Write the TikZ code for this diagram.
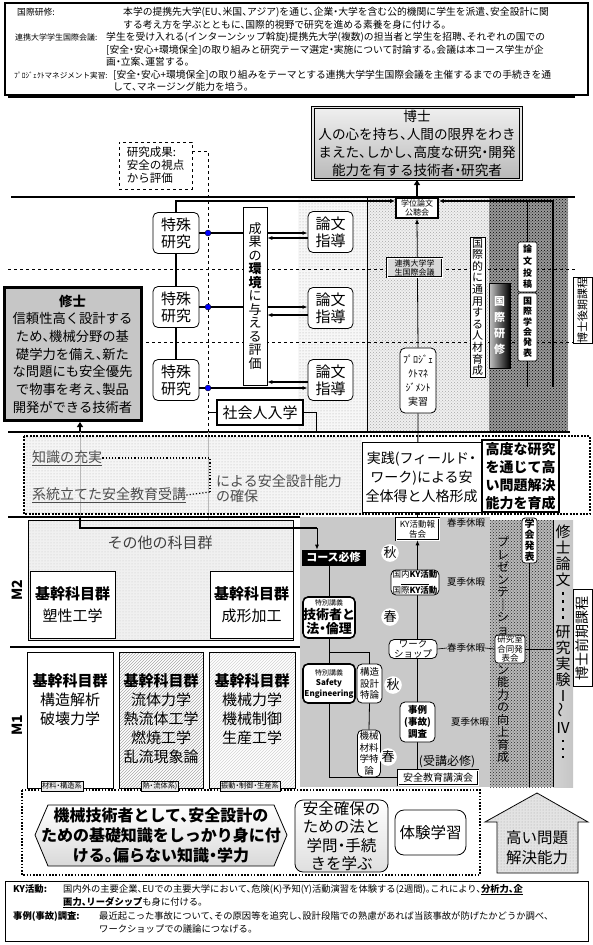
\documentclass[tikz,border=0pt]{standalone}
\usepackage{fontspec}
\usepackage{graphicx}
\setmainfont{Noto Sans CJK JP}[RawFeature=+halt]
\usetikzlibrary{arrows.meta,positioning,patterns}
\newcommand{\jfs}[2]{\fontsize{#1}{#2}\selectfont}

\begin{document}
\begin{tikzpicture}[x=1pt, y=-1pt, >={Latex[length=5pt,width=4pt]},
  note/.style={inner sep=0pt, font=\jfs{9.3}{12}},
  topnote/.style={inner sep=0pt, font=\jfs{9.8}{12}},
  notelbl/.style={inner sep=0pt, font=\jfs{8.8}{12}},
  box/.style={draw, fill=white, align=center, inner sep=0pt, line width=0.6pt},
  rbox/.style={box, rounded corners=5pt, line width=0.8pt},
  tkbox/.style={rbox, minimum width=46, minimum height=41, font=\jfs{15}{17}},
  season/.style={circle, fill=white, inner sep=0pt, minimum size=17, font=\jfs{13}{13}},
  rest/.style={inner sep=0pt, font=\jfs{9.5}{10}},
  tag/.style={draw, fill=gray!15, inner sep=1pt, minimum height=10, font=\jfs{7.2}{8}},
  bdot/.style={circle, draw=black, fill=blue, line width=0.3pt, inner sep=0pt, minimum size=6},
  rowdot/.style={line width=2.4pt, dash pattern=on 2pt off 1.3pt},
  sqdots/.style={line width=2.4pt, dash pattern=on 2.4pt off 5.6pt},
  kbox/.style={draw, line width=0.7pt, inner sep=0pt},
  ktext/.style={align=center, inner sep=0pt, font=\jfs{15}{19}},
  vtext/.style={inner sep=0pt, align=center},
  row2/.style={inner sep=0pt, text=black!70, font=\jfs{14}{15}}]
\useasboundingbox (0,0) rectangle (592,945);

% notes on top
\node[draw, line width=1.8pt, minimum width=583, minimum height=92, inner sep=0pt] (top) at (296.5,49) {};
\node[notelbl, anchor=base west] (ta) at (17,15.5) {国際研修:};
\node[topnote, anchor=base west] (ta1) at (123,15.5) {本学の提携先大学(EU、米国、アジア)を通じ、企業・大学を含む公的機関に学生を派遣、安全設計に関};
\node[topnote, anchor=base west] (ta2) at (123,28) {する考え方を学ぶとともに、国際的視野で研究を進める素養を身に付ける。};
\node[notelbl, font=\jfs{8}{12}, anchor=base west] (tb) at (15,40.5) {連携大学学生国際会議:};
\node[topnote, anchor=base west] (tb1) at (106,40.5) {学生を受け入れる(インターンシップ斡旋)提携先大学(複数)の担当者と学生を招聘、それぞれの国での};
\node[topnote, anchor=base west] (tb2) at (106,53) {[安全・安心+環境保全]の取り組みと研究テーマ選定・実施について討論する。会議は本コース学生が企};
\node[topnote, anchor=base west] (tb3) at (106,65.5) {画・立案、運営する。};
\node[notelbl, font=\jfs{7.6}{12}, anchor=base west] (tc) at (14,78) {ﾌﾟﾛｼﾞｪｸﾄマネジメント実習:};
\node[topnote, anchor=base west] (tc1) at (113,78) {[安全・安心+環境保全]の取り組みをテーマとする連携大学学生国際会議を主催するまでの手続きを通};
\node[topnote, anchor=base west] (tc2) at (113,90.5) {して、マネージング能力を培う。};

% doctoral course background
\fill[gray!6] (298,198) rectangle (367,432);
\fill[pattern=dots, pattern color=gray!70] (298,198) rectangle (367,432);
\fill[gray!12] (367,198) rectangle (489,432);
\fill[pattern=crosshatch dots, pattern color=gray!70] (367,198) rectangle (489,432);
\fill[gray!80] (489,198) rectangle (568,432);
\fill[pattern=crosshatch dots, pattern color=black] (489,198) rectangle (568,432);
\draw[line width=0.5pt] (367,198) -- (367,432);
\draw[line width=1.6pt] (8,97) -- (575,97);
\draw[line width=1.6pt] (11,197) -- (575,197);
\draw[line width=1pt, dashed] (8,269) -- (575,269);
\draw[line width=1pt, dashed] (8,342) -- (575,342);
\draw[line width=1.6pt] (8,432) -- (570,432);

% master course background
\fill[gray!42] (300,520) rectangle (490,787);
\shade[top color=gray!42, middle color=white, bottom color=gray!42] (300,517) rectangle (490,532);
\shade[top color=gray!42, middle color=white, bottom color=gray!42] (300,571) rectangle (490,594);
\shade[top color=gray!42, middle color=white, bottom color=gray!42] (300,638) rectangle (490,658);
\shade[top color=gray!42, middle color=white, bottom color=gray!42] (300,711) rectangle (490,734);
\fill[gray!55] (490,520) rectangle (553,787);
\fill[pattern=crosshatch dots, pattern color=black!85] (490,520) rectangle (553,787);
\shade[left color=gray!35, middle color=white, right color=gray!45] (553,520) rectangle (573,787);
\draw[line width=0.5pt] (553,520) -- (553,787);

\node[box, line width=1pt, double=gray!20, double distance=1.2pt, top color=gray!12, bottom color=gray!55,
  minimum width=208, minimum height=72, font=\jfs{13.6}{18}] (hakase) at (417,143.5)
  {博士\\人の心を持ち、人間の限界をわき\\まえた、しかし、高度な研究・開発\\能力を有する技術者・研究者};
\node[box, dashed, align=left, minimum width=73, minimum height=47, font=\jfs{11.5}{13}] (hyoka) at (155.5,165.5) {研究成果:\\安全の視点\\から評価};
\node[box, line width=1.6pt, minimum width=42, minimum height=20, font=\jfs{8}{9}] (kouchou) at (417,208) {学位論文\\公聴会};
\node[rbox, minimum width=36, minimum height=65, font=\jfs{10}{14}] (pm) at (418,380.5) {ﾌﾟﾛｼﾞｪ\\ｸﾄﾏﾈ\\ｼﾞﾒﾝﾄ\\実習};
\node[box, double, double distance=0.8pt, line width=0.5pt, minimum width=43, minimum height=22, font=\jfs{8.5}{10}] (kyrep) at (417.5,529) {KY活動報\\告会};
\node[box, double, double distance=1pt, line width=0.8pt, minimum width=80, minimum height=15, font=\jfs{10}{11}] (kouen) at (438,777.5) {安全教育講演会};

\draw[line width=1.6pt, -{Triangle[length=5pt,width=6pt]}] (kouchou.north) -- (hakase.south);
\draw[line width=0.8pt, ->] (pm.north) -- (kouchou.south);
\draw[line width=0.8pt] (pm.south) -- (kyrep.north);
\draw[line width=1pt, ->] (kyrep.south |- kouen.north) -- (kyrep.south);
\node[box, double, double distance=0.8pt, line width=0.5pt, fill=gray!30, minimum width=55, minimum height=19, font=\jfs{8}{9}] (renkei) at (414.5,267.5) {連携大学学\\生国際会議};

% special research and thesis guidance
\node[tkbox] (tk1) at (176,233) {特殊\\研究};
\node[tkbox] (tk2) at (176,307) {特殊\\研究};
\node[tkbox] (tk3) at (176,380) {特殊\\研究};
\node[tkbox, minimum width=45] (rs1) at (330.5,232) {論文\\指導};
\node[tkbox, minimum width=45] (rs2) at (330.5,308) {論文\\指導};
\node[tkbox, minimum width=45] (rs3) at (330.5,380) {論文\\指導};
\draw[line width=1.8pt] (tk1) -- (tk2);
\draw[line width=1.8pt] (tk2) -- (tk3);
\draw[line width=1.8pt, ->] (tk1.north) |- ([yshift=7pt]kouchou.west);
\coordinate (dvb) at (208,432);
\draw[dashed, line width=0.8pt] ([yshift=14.5pt]hyoka.east) -| (dvb);
\draw[line width=1.3pt, ->] (tk1.east) -- (tk1.east -| rs1.west);
\draw[line width=1.3pt, ->] (tk2.east) -- (tk2.east -| rs2.west);
\draw[line width=1.3pt, ->] ([yshift=-8pt]tk3.east) -- ([yshift=-8pt]tk3.east -| rs3.west);
\node[box, minimum width=24, minimum height=178, font=\jfs{13}{13.5}] (seika) at (255,296)
  {成\\果\\の\\\textbf{環}\\\textbf{境}\\に\\与\\え\\る\\評\\価};
\draw[line width=1.3pt, ->] ([yshift=-6pt]rs1.west) -- ([yshift=-6pt]rs1.west -| seika.east);
\draw[line width=1.3pt, ->] ([yshift=-7pt]rs2.west) -- ([yshift=-7pt]rs2.west -| seika.east);
\draw[line width=1.3pt, ->] ([yshift=-2pt]rs3.west) -- ([yshift=-2pt]rs3.west -| seika.east);
\node[bdot] (bd1) at (208,233) {};
\node[bdot] (bd2) at (208,307) {};
\node[bdot] (bd3) at (208,388) {};
\node[box, line width=2pt, minimum width=86, minimum height=25, font=\jfs{15}{17}] (shakai) at (260,412.5) {社会人入学};
\coordinate (sj) at (208,412.5);
\coordinate (sk) at (316,432);
\draw[line width=1pt] (sj) -- (shakai.west);
\draw[line width=0.5pt] (shakai.east) -| (sk);

% right columns of the doctoral course
\node[box, line width=0.5pt, minimum width=15, minimum height=140, font=\jfs{11}{11.6}] (jinzai) at (477.5,307)
  {国\\際\\的\\に\\通\\用\\す\\る\\人\\材\\育\\成};
\node[draw, inner sep=0pt, minimum width=21, minimum height=85, left color=gray!45, middle color=gray!70, right color=black,
  text=white, align=center, font=\bfseries\jfs{11}{15.7}] (kenshu) at (499.5,325.5) {国\\際\\研\\修};
\node[box, rounded corners=2pt, minimum width=19, minimum height=50, font=\bfseries\jfs{9}{11.7}] (toukou) at (527.5,267) {論\\文\\投\\稿};
\node[box, rounded corners=2pt, minimum width=19, minimum height=68, font=\bfseries\jfs{9}{10.3}] (hapyo) at (527.5,327) {国\\際\\学\\会\\発\\表};
\coordinate (dr) at (553,387);
\draw[line width=1.2pt, ->] (dr) |- ([yshift=7pt]kouchou.east);
\draw[line width=1pt] (toukou.north) -- (toukou.north |- 0,201);
\draw[line width=1pt] (hapyo.south) -- ++(0,26);
\node[box, rotate=90, minimum width=65, minimum height=19, font=\jfs{11}{12}] (dlabel) at (582.5,310) {博士後期課程};

% master degree
\node[box, line width=3pt, top color=gray!45, middle color=gray!8, bottom color=gray!45,
  minimum width=137, minimum height=133, font=\jfs{13.3}{17.7}] (shushi) at (72.5,354)
  {\textbf{修士}\\信頼性高く設計する\\ため、機械分野の基\\礎学力を備え、新た\\な問題にも安全優先\\で物事を考え、製品\\開発ができる技術者};
\coordinate (sh0) at (80,432);
\draw[line width=1.8pt, -{Triangle[length=5pt,width=6pt]}] (sh0) -- (sh0 |- shushi.south);

% second row
\fill[gray!8] (24,436) rectangle (362,514);
\fill[pattern=dots, pattern color=gray!60] (24,436) rectangle (362,514);
\draw[gray!55, line width=1pt] (80,432) -- (80,517);
\draw[gray!55, line width=0.6pt] (208,432) -- (208,528);
\node[row2, anchor=west] (juujitsu) at (32,458) {\underline{知識の充実}};
\node[row2, anchor=west] (keitou) at (32,495) {\underline{系統立てた安全教育受講}};
\coordinate (cj) at (210,458);
\coordinate (ck) at (210,492);
\draw[dotted, line width=1.2pt] (juujitsu.east) -- (cj) -- (ck);
\draw[dotted, line width=1.2pt] (keitou.east) -- (ck);
\node[row2, anchor=west, align=left] (kakuho) at (216,489) {による安全設計能力\\の確保};
\node[box, line width=0.5pt, minimum width=119, minimum height=70, font=\jfs{14}{19}] (jissen) at (421.5,477)
  {実践(フィールド・\\ワーク)による安\\全体得と人格形成};
\node[box, line width=2.2pt, minimum width=77, minimum height=72, font=\bfseries\jfs{14}{18}] (koudo) at (520.5,476)
  {高度な研究\\を通じて高\\い問題解決\\能力を育成};
\draw[rowdot] (24,436) rectangle (590,514);
\draw[line width=1.6pt] (8,517) -- (300,517);

% M2
\node[kbox, fill=gray!12, minimum width=265, minimum height=120] (sonota) at (160.5,580) {};
\fill[pattern=dots, pattern color=gray!45] (sonota.south west) rectangle (sonota.north east);
\node[inner sep=0pt, text=black!75, font=\jfs{15}{17}] (sonotat) at (160,543) {その他の科目群};
\node[kbox, fill=white, align=center, minimum width=85, minimum height=67, font=\jfs{15}{22}] (sosei) at (72.5,605) {\textbf{基幹科目群}\\塑性工学};
\node[kbox, fill=white, align=center, minimum width=83, minimum height=67, font=\jfs{15}{22}] (seikei) at (251.5,605) {\textbf{基幹科目群}\\成形加工};
\node[rotate=90, inner sep=0pt, font=\bfseries\jfs{14}{14}] (m2) at (17,590) {M2};
\draw[line width=1.2pt] (10,647) -- (300,647);

% M1
\node[kbox, fill=white, minimum width=86, minimum height=136] (ma) at (70,720) {};
\node[kbox, pattern=north east lines, pattern color=gray!70, minimum width=84, minimum height=136] (mb) at (161,720) {};
\node[kbox, pattern=north east lines, pattern color=gray!35, minimum width=86, minimum height=136] (mc) at (252,720) {};
\node[ktext, anchor=north] (mat) at (70,673) {\textbf{基幹科目群}\\構造解析\\破壊力学};
\node[ktext, anchor=north] (mbt) at (161,673) {\textbf{基幹科目群}\\流体力学\\熱流体工学\\燃焼工学\\乱流現象論};
\node[ktext, anchor=north] (mct) at (252,673) {\textbf{基幹科目群}\\機械力学\\機械制御\\生産工学};
\node[rotate=90, inner sep=0pt, font=\bfseries\jfs{14}{14}] (m1) at (17,725) {M1};

% bottom row frame
\draw[line width=2pt, dash pattern=on 1.6pt off 1.6pt] (22,790) rectangle (480,875);
\node[tag] (tga) at (62,786) {材料・構造系};
\node[tag] (tgb) at (160,786) {熱・流体系)};
\node[tag] (tgc) at (250,786) {振動・制御・生産系};

% master timeline
\node[box, fill=black, text=white, minimum width=63, minimum height=15, font=\bfseries\jfs{11}{12}] (hissyu) at (333.5,557.5) {コース必修};
\coordinate (hb) at (80,517);
\coordinate (hc) at (317,528);
\draw[line width=1.8pt] (hb) |- (hc);
\draw[line width=1pt, ->] (hc) -- (hissyu.north -| hc);
\node[rbox, line width=1.6pt, minimum width=50, minimum height=41, font=\bfseries\jfs{13}{14}] (rinri) at (329,617.5)
  {{\mdseries\jfs{7}{9}特別講義}\\技術者と\\法・倫理};
\node[rbox, line width=1.6pt, minimum width=52, minimum height=39, font=\bfseries\jfs{8}{10.5}] (safety) at (329,683.5)
  {{\mdseries\jfs{7}{9}特別講義}\\Safety\\Engineering};
\node[rbox, minimum width=25, minimum height=39, font=\jfs{9.5}{11.5}] (kouzou) at (369.5,683.5) {構造\\設計\\特論};
\node[rbox, minimum width=23, minimum height=47, font=\jfs{9.5}{11.5}] (zairyou) at (369,753.5) {機械\\材料\\学特\\論};
\draw[line width=0.8pt] (hissyu.south -| rinri.north) -- (rinri.north);
\draw[line width=0.8pt] (rinri.south) -- (safety.north);
\draw[line width=0.8pt] (rinri.south |- 0,652) -| (kouzou.north);
\draw[line width=0.8pt] (kouzou.south) -- (zairyou.north);
\draw[line width=0.8pt] (safety.south) |- (kouen.west);
\draw[line width=0.8pt] (zairyou.south) -- (zairyou.south |- kouen.west);
\node[rbox, minimum width=48, minimum height=25, font=\jfs{8.5}{10}] (kyact) at (415,582.5)
  {国内\textbf{KY活動}\\[-3pt]\rule{28pt}{0.5pt}\\[-1pt]国際\textbf{KY活動}};
\node[rbox, minimum width=48, minimum height=18, font=\jfs{9.5}{10.5}] (work) at (413,649) {ワーク\\ショップ};
\node[rbox, minimum width=35, minimum height=40, font=\bfseries\jfs{9.5}{12}] (jirei) at (417.5,722) {事例\\(事故)\\調査};
\node[rbox, rounded corners=3pt, minimum width=30, minimum height=28, font=\jfs{8.5}{9.5}] (goudou) at (510,649) {研究室\\合同発\\表会};
\node[rbox, rounded corners=3pt, minimum width=15, minimum height=45, font=\bfseries\jfs{10}{11}] (gakkai) at (529.5,540.5) {学\\会\\発\\表};
\draw[line width=0.8pt] (gakkai.south) -- (gakkai.south |- 0,787);
\node[season] (aki1) at (390,553) {秋};
\node[season] (haru1) at (390,617) {春};
\node[season] (aki2) at (393,685) {秋};
\node[season] (haru2) at (388,757) {春};
\node[rest] (r1) at (466,523) {春季休暇};
\node[rest] (r2) at (466,582) {夏季休暇};
\node[rest] (r3) at (466,648) {春季休暇};
\node[rest] (r4) at (470,722) {夏季休暇};
\draw[line width=0.6pt] (work.east) -- (r3.west);
\draw[line width=0.6pt] (r3.east) -- (goudou.west);
\draw[line width=0.6pt] (goudou.east) -- (goudou.east -| 553,0);
\node[inner sep=0pt, font=\jfs{12}{13}] (jukou) at (447,762) {(受講必修)};
\node[vtext, font=\jfs{12}{12.5}] (presen1) at (503,586) {プ\\レ\\ゼ\\ン\\テ\\｜\\シ\\ョ};
\node[vtext, font=\jfs{12}{12.5}] (presen2) at (503,714) {ン\\能\\力\\の\\向\\上\\育\\成};
\node[vtext, font=\jfs{15}{16}] (shuron1) at (563,556) {修\\士\\論\\文};
\node[vtext, font=\jfs{15}{16}] (shuron2) at (563,680) {研\\究\\実\\験\\Ⅰ\\\rotatebox{90}{〜}\\Ⅳ};
\coordinate (sd) at (563,764);
\draw[sqdots] ([yshift=-5pt]shuron1.south) -- ([yshift=4pt]shuron2.north);
\draw[sqdots] ([yshift=-6pt]shuron2.south) -- (sd);
\node[box, rotate=90, minimum width=97, minimum height=19, font=\jfs{14}{15}] (mlabel) at (582.5,638) {博士前期課程};

% bottom row
\draw[line width=0.8pt, top color=white, bottom color=gray!30] (35,835) -- (48,805) -- (274,805) -- (287,835) -- (274,866) -- (48,866) -- cycle;
\node[inner sep=0pt, align=center, font=\bfseries\jfs{16}{20}] (kiso) at (161,835)
  {機械技術者として、安全設計の\\ための基礎知識をしっかり身に付\\ける。偏らない知識・学力};
\node[rbox, rounded corners=8pt, top color=white, bottom color=gray!25, minimum width=93, minimum height=72, font=\jfs{15.5}{18.5}] (hou) at (341.5,836)
  {安全確保の\\ための法と\\学問・手続\\きを学ぶ};
\node[rbox, rounded corners=9pt, minimum width=71, minimum height=45, font=\jfs{15.5}{17}] (taiken) at (430.5,832.5) {体験学習};
\draw[line width=0.8pt, fill=gray!22] (537,793) -- (588,822) -- (578,822) -- (578,873) -- (497,873) -- (497,822) -- (485,822) -- cycle;
\fill[pattern=dots, pattern color=gray!70] (537,793) -- (588,822) -- (578,822) -- (578,873) -- (497,873) -- (497,822) -- (485,822) -- cycle;
\node[inner sep=0pt, align=center, font=\jfs{15.5}{20}] (mondai) at (537,848) {高い問題\\解決能力};

% notes at the bottom
\node[draw, line width=1pt, minimum width=583, minimum height=60, inner sep=0pt] (bot) at (296.5,911) {};
\node[note, anchor=base west] (ba) at (13,892) {\textbf{KY活動:}};
\node[note, anchor=base west] (ba1) at (63,892) {国内外の主要企業、EUでの主要大学において、危険(K)予知(Y)活動演習を体験する(2週間)。これにより、\textbf{\underline{分析力、企}}};
\node[note, anchor=base west] (ba2) at (63,905) {\textbf{\underline{画力、リーダシップ}}も身に付ける。};
\node[note, anchor=base west] (bb) at (13,919) {\textbf{事例(事故)調査:}};
\node[note, anchor=base west] (bb1) at (99,919) {最近起こった事故について、その原因等を追究し、設計段階での熟慮があれば当該事故が防げたかどうか調べ、};
\node[note, anchor=base west] (bb2) at (99,932) {ワークショップでの議論につなげる。};
\end{tikzpicture}
\end{document}
